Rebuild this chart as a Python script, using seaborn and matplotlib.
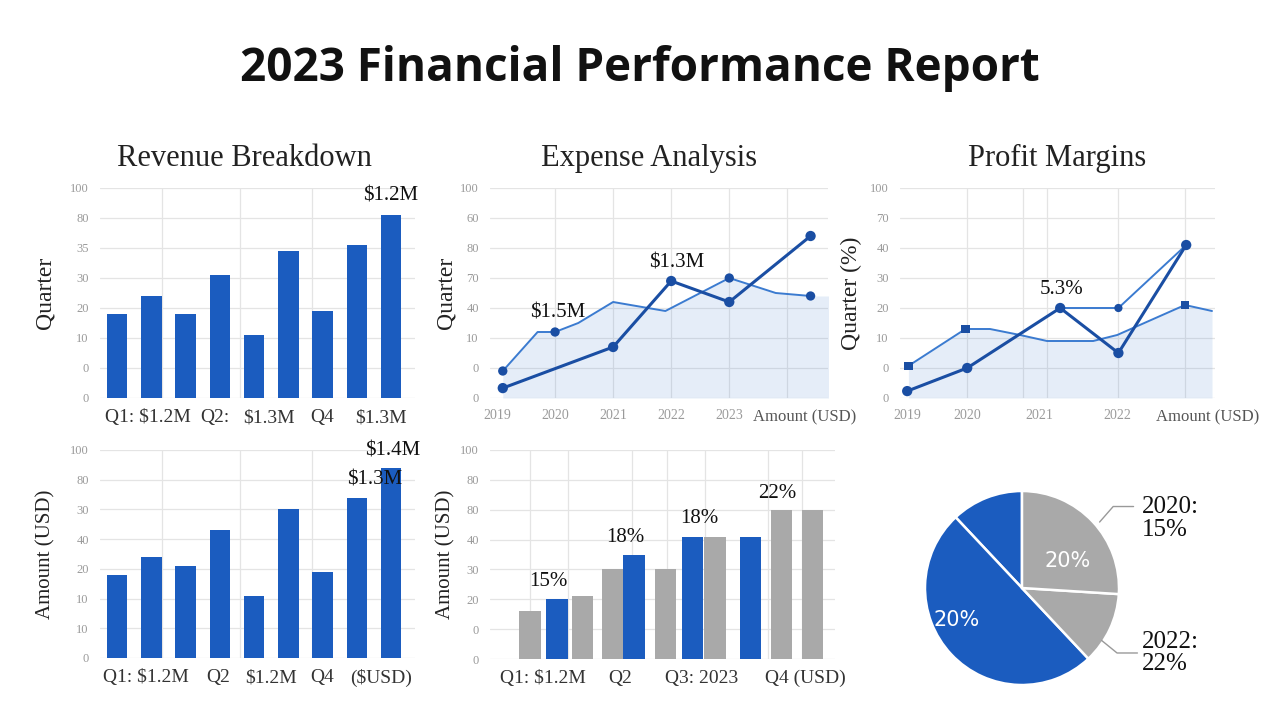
import matplotlib
matplotlib.use("Agg")
import matplotlib.pyplot as plt
import seaborn as sns

BLUE = "#1b5cbf"
DARK_BLUE = "#1a4ea3"
LIGHT_BLUE = "#3b7bd0"
GRAY = "#a9a9a9"
GRID = "#e4e4e4"
SERIF = "Liberation Serif"

# --- Revenue Breakdown (top left)
rev_periods = ["P1", "P2", "P3", "P4", "P5", "P6", "P7", "P8", "P9"]
rev_values = [28, 34, 28, 41, 21, 49, 29, 51, 61]
rev_yticks = ["0", "0", "10", "20", "30", "35", "80", "100"]
rev_xlabels = ["Q1: $1.2M", "Q2:", "$1.3M", "Q4", "$1.3M"]
rev_xlabel_pos = [0.9, 2.85, 4.45, 6.0, 7.7]

# --- Expense Analysis (top middle)
exp_a_x = [0.1, 2.0, 3.0, 4.0, 5.4]
exp_a_y = [3.3, 17, 39, 32, 54]
exp_b_x = [0.1, 0.7, 1.0, 1.4, 2.0, 2.9, 4.0, 4.8, 5.4, 5.75]
exp_b_y = [9, 22, 22, 25, 32, 29, 40, 35, 34, 34]
exp_b_marks = [0, 2, 6, 8]
exp_yticks = ["0", "0", "10", "40", "70", "80", "60", "100"]
exp_xlabels = ["2019", "2020", "2021", "2022", "2023", "Amount (USD)"]
exp_xlabel_pos = [0, 1, 2, 3, 4, 5.3]

# --- Profit Margins (top right)
pm_a_x = [0, 1, 2.55, 3.52, 4.65]
pm_a_y = [2.3, 10, 30, 15, 51]
pm_b_x = [0.02, 0.97, 1.38, 1.88, 2.33, 3.1, 3.5, 4.63, 5.08]
pm_b_y = [10.7, 23, 23, 21, 19, 19, 21, 31, 29]
pm_b_marks = [0, 1, 7]
pm_c_x = [2.55, 3.52, 4.65]
pm_c_y = [30, 30, 51]
pm_yticks = ["0", "0", "10", "20", "30", "40", "70", "100"]
pm_xlabels = ["2019", "2020", "2021", "2022", "Amount (USD)"]
pm_xlabel_pos = [0, 1, 2.2, 3.5, 5.0]

# --- Revenue bars (bottom left)
rev2_values = [28, 34, 31, 43, 21, 50, 29, 54, 64]
rev2_yticks = ["0", "10", "10", "20", "40", "30", "80", "100"]
rev2_xlabels = ["Q1: $1.2M", "Q2", "$1.2M", "Q4", "($USD)"]
rev2_xlabel_pos = [0.85, 2.95, 4.5, 6.0, 7.7]

# --- Margin comparison (bottom middle)
cmp_x = [0, 1.25, 2.45, 3.85, 4.85, 6.3, 7.55, 8.6, 10.25, 11.7, 13.15]
cmp_values = [16, 20, 21, 30, 35, 30, 41, 41, 41, 50, 50]
cmp_series = ["2022", "2023", "2022", "2022", "2023", "2022", "2023", "2022", "2023", "2022", "2022"]
cmp_yticks = ["0", "0", "20", "30", "40", "80", "80", "100"]
cmp_xlabels = ["Q1: $1.2M", "Q2", "Q3: 2023", "Q4 (USD)"]
cmp_xlabel_pos = [0.6, 4.2, 8.0, 12.8]
cmp_notes = ["15%", "18%", "18%", "22%"]
cmp_note_xy = [(0.84, 25.8), (4.42, 40.8), (7.9, 47.2), (11.5, 55.5)]

# --- Pie (bottom right)
pie_values = [12, 50, 12, 26]
pie_colors = [BLUE, BLUE, GRAY, GRAY]

sns.set_theme(style="white")
plt.rcParams["font.family"] = ["DejaVu Sans"]

fig = plt.figure(figsize=(12.8, 7.2), dpi=100)
fig.patch.set_facecolor("white")


def style_axes(ax, ytick_labels, title=None, ylabel=None, label_x=-0.14, ylabel_size=17, title_x=0.5):
    ax.set_ylim(0, 70)
    ax.set_yticks(range(0, 71, 10))
    ax.set_yticklabels(ytick_labels, family=SERIF, fontsize=9, color="#9a9a9a")
    ax.grid(axis="y", color=GRID, linewidth=0.9)
    ax.grid(axis="x", visible=False)
    ax.tick_params(length=0, pad=8)
    for s in ax.spines.values():
        s.set_visible(False)
    ax.set_xlabel("")
    if title:
        ax.set_title(title, family=SERIF, fontsize=22, color="#222222", pad=16, x=title_x)
    if ylabel:
        ax.set_ylabel(ylabel, family=SERIF, fontsize=ylabel_size, color="#222222")
        ax.yaxis.set_label_coords(label_x, 0.5)


def vgrid(ax, xs):
    for x in xs:
        ax.axvline(x, color=GRID, linewidth=0.9, zorder=0)


fig.text(0.5, 1 - 69 / 720, "2023 Financial Performance Report", ha="center", va="center",
         fontsize=33, fontweight="bold", family="Open Sans", color="#111111")

# top left
ax1 = fig.add_axes([100 / 1280, 1 - 398 / 720, 315 / 1280, 210 / 720])
sns.barplot(x=rev_periods, y=rev_values, color=BLUE, width=0.6, saturation=1,
            linewidth=0, ax=ax1, zorder=3)
style_axes(ax1, rev_yticks, "Revenue Breakdown", "Quarter", -0.14, title_x=0.46)
ax1.set_xlim(-0.5, 8.7)
vgrid(ax1, [1.3, 3.6, 5.7])
ax1.set_xticks(rev_xlabel_pos)
ax1.set_xticklabels(rev_xlabels, family=SERIF, fontsize=14, color="#333333")
ax1.text(8, rev_values[8] + 3, "$1.2M", ha="center", va="bottom", family=SERIF, fontsize=15, color="#111111")

# top middle
ax2 = fig.add_axes([490 / 1280, 1 - 398 / 720, 338 / 1280, 210 / 720])
ax2.fill_between(exp_b_x, exp_b_y, 0, color=LIGHT_BLUE, alpha=0.13, linewidth=0)
sns.lineplot(x=exp_b_x[:-1], y=exp_b_y[:-1], color=LIGHT_BLUE, linewidth=1.4, sort=False,
             estimator=None, ax=ax2)
sns.lineplot(x=exp_a_x, y=exp_a_y, color=DARK_BLUE, linewidth=2.2, sort=False,
             estimator=None, ax=ax2)
sns.scatterplot(x=[exp_b_x[i] for i in exp_b_marks], y=[exp_b_y[i] for i in exp_b_marks],
                color=DARK_BLUE, s=45, edgecolor="none", ax=ax2, zorder=4)
sns.scatterplot(x=exp_a_x, y=exp_a_y, color=DARK_BLUE, s=55, edgecolor="none", ax=ax2, zorder=4)
style_axes(ax2, exp_yticks, "Expense Analysis", "Quarter", -0.10, title_x=0.47)
ax2.set_xlim(-0.12, 5.7)
vgrid(ax2, [1, 2, 3, 4, 5])
ax2.set_xticks(exp_xlabel_pos)
ax2.set_xticklabels(exp_xlabels, family=SERIF, fontsize=10, color="#9a9a9a")
ax2.get_xticklabels()[-1].set_color("#555555")
ax2.get_xticklabels()[-1].set_fontsize(12)
ax2.text(1.05, 28.3, "$1.5M", ha="center", va="center", family=SERIF, fontsize=15, color="#111111")
ax2.text(3.09, 45, "$1.3M", ha="center", va="center", family=SERIF, fontsize=15, color="#111111")

# top right
ax3 = fig.add_axes([900 / 1280, 1 - 398 / 720, 315 / 1280, 210 / 720])
ax3.fill_between(pm_b_x, pm_b_y, 0, color=LIGHT_BLUE, alpha=0.13, linewidth=0)
sns.lineplot(x=pm_b_x, y=pm_b_y, color=LIGHT_BLUE, linewidth=1.4, sort=False, estimator=None, ax=ax3)
sns.lineplot(x=pm_c_x, y=pm_c_y, color=LIGHT_BLUE, linewidth=1.4, sort=False, estimator=None, ax=ax3)
sns.lineplot(x=pm_a_x, y=pm_a_y, color=DARK_BLUE, linewidth=2.2, sort=False, estimator=None, ax=ax3)
sns.scatterplot(x=[pm_b_x[i] for i in pm_b_marks], y=[pm_b_y[i] for i in pm_b_marks],
                color=DARK_BLUE, s=35, marker="s", edgecolor="none", ax=ax3, zorder=4)
sns.scatterplot(x=pm_c_x[1:2], y=pm_c_y[1:2], color=DARK_BLUE, s=35, edgecolor="none", ax=ax3, zorder=4)
sns.scatterplot(x=pm_a_x, y=pm_a_y, color=DARK_BLUE, s=55, edgecolor="none", ax=ax3, zorder=4)
style_axes(ax3, pm_yticks, "Profit Margins", "Quarter (%)", -0.12)
ax3.set_xlim(-0.12, 5.13)
vgrid(ax3, [1, 1.93, 2.33, 3.52, 4.63])
ax3.set_xticks(pm_xlabel_pos)
ax3.set_xticklabels(pm_xlabels, family=SERIF, fontsize=10, color="#9a9a9a")
ax3.get_xticklabels()[-1].set_color("#555555")
ax3.get_xticklabels()[-1].set_fontsize(12)
ax3.text(2.58, 36.3, "5.3%", ha="center", va="center", family=SERIF, fontsize=15, color="#111111")

# bottom left
ax4 = fig.add_axes([100 / 1280, 1 - 658 / 720, 315 / 1280, 208 / 720])
sns.barplot(x=rev_periods, y=rev2_values, color=BLUE, width=0.6, saturation=1,
            linewidth=0, ax=ax4, zorder=3)
style_axes(ax4, rev2_yticks, None, "Amount (USD)", -0.14, 15)
ax4.set_xlim(-0.5, 8.7)
vgrid(ax4, [1.3, 3.6, 5.7])
ax4.set_xticks(rev2_xlabel_pos)
ax4.set_xticklabels(rev2_xlabels, family=SERIF, fontsize=14, color="#333333")
ax4.text(7.53, 60, "$1.3M", ha="center", va="center", family=SERIF, fontsize=15, color="#111111")
ax4.text(8.05, 69.7, "$1.4M", ha="center", va="center", family=SERIF, fontsize=15,
         color="#111111", clip_on=False)

# bottom middle
ax5 = fig.add_axes([490 / 1280, 1 - 659 / 720, 345 / 1280, 209 / 720])
sns.barplot(x=cmp_x, y=cmp_values, hue=cmp_series, palette={"2022": GRAY, "2023": BLUE},
            native_scale=True, dodge=False, width=1.0, saturation=1, linewidth=0,
            legend=False, ax=ax5, zorder=3)
style_axes(ax5, cmp_yticks, None, "Amount (USD)", -0.10, 15)
ax5.set_xlim(-1.86, 14.19)
vgrid(ax5, [0, 1.77, 4.74, 6.37, 8.14, 11.07, 12.65])
ax5.set_xticks(cmp_xlabel_pos)
ax5.set_xticklabels(cmp_xlabels, family=SERIF, fontsize=14, color="#333333")
for note, (nx, ny) in zip(cmp_notes, cmp_note_xy):
    ax5.text(nx, ny, note, ha="center", va="center", family=SERIF, fontsize=15, color="#111111")

# bottom right pie
ax6 = fig.add_axes([925 / 1280, 1 - 685 / 720, 194 / 1280, 194 / 720])
ax6.pie(pie_values, colors=pie_colors, startangle=90, counterclock=True,
        wedgeprops={"edgecolor": "white", "linewidth": 1.8})
ax6.set_xlim(-1, 1)
ax6.set_ylim(-1, 1)
ax6.text(0.47, 0.28, "20%", ha="center", va="center", color="white", fontsize=15)
ax6.text(-0.67, -0.33, "20%", ha="center", va="center", color="white", fontsize=15)
ax6.plot([0.80, 0.94, 1.15], [0.68, 0.84, 0.84], color="#999999", linewidth=1, clip_on=False)
ax6.plot([0.82, 0.98, 1.19], [-0.54, -0.67, -0.67], color="#999999", linewidth=1, clip_on=False)
ax6.text(1.24, 0.72, "2020:\n15%", ha="left", va="center", family=SERIF, fontsize=18,
         color="#111111", linespacing=1.05, clip_on=False)
ax6.text(1.24, -0.67, "2022:\n22%", ha="left", va="center", family=SERIF, fontsize=18,
         color="#111111", linespacing=1.05, clip_on=False)

fig.savefig("out.png", dpi=100)
